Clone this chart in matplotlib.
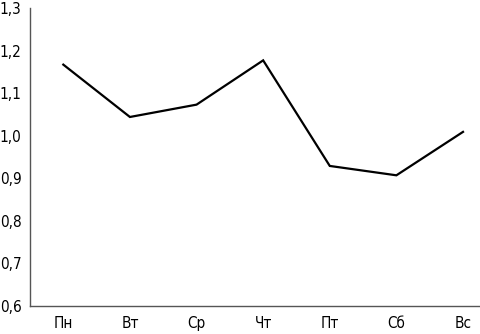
import matplotlib

matplotlib.use("Agg")
import matplotlib.pyplot as plt

days = ["Пн", "Вт", "Ср", "Чт", "Пт", "Сб", "Вс"]
values = [1.167, 1.044, 1.073, 1.177, 0.929, 0.907, 1.009]
y_ticks = [0.6, 0.7, 0.8, 0.9, 1.0, 1.1, 1.2, 1.3]

plt.rcParams["font.family"] = ["DejaVu Sans"]
plt.rcParams["font.stretch"] = "condensed"

fig = plt.figure(figsize=(4.81, 3.34), dpi=100)
ax = fig.add_axes([30 / 481, 28 / 334, 451 / 481, 298 / 334])

x = list(range(len(days)))
ax.plot(x, values, color="black", linewidth=1.6, solid_joinstyle="miter")

ax.set_xlim(-0.5, 6.27)
ax.set_ylim(0.6, 1.3)
ax.set_xticks(x)
ax.set_xticklabels(days)
ax.set_yticks(y_ticks)
ax.set_yticklabels([f"{v:.1f}".replace(".", ",") for v in y_ticks])
ax.tick_params(length=0, labelsize=11, colors="black")
ax.tick_params(axis="x", pad=7)
ax.tick_params(axis="y", pad=6)

for side in ("top", "right"):
    ax.spines[side].set_visible(False)
for side in ("left", "bottom"):
    ax.spines[side].set_color("#555555")
    ax.spines[side].set_linewidth(1.0)

fig.savefig("out.png", dpi=100)
